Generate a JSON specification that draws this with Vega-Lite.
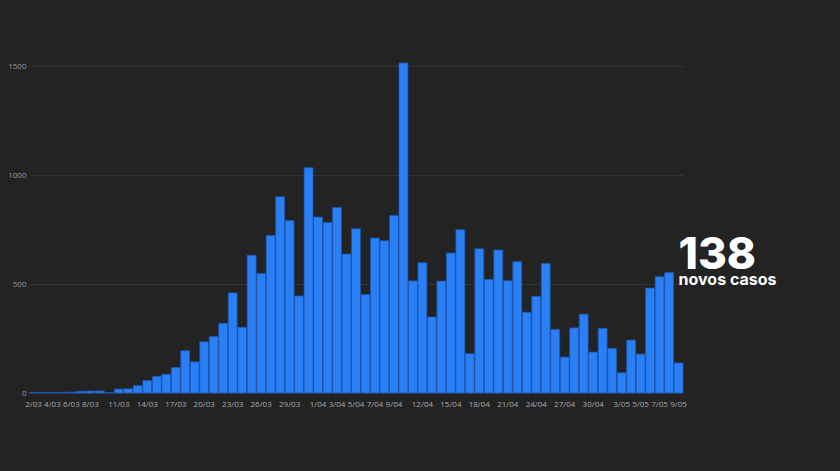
{
  "$schema": "https://vega.github.io/schema/vega-lite/v6.json",
  "width": 654,
  "height": 330,
  "autosize": "none",
  "padding": {"left": 29, "top": 63, "right": 157, "bottom": 78},
  "background": "#232323",
  "config": {
    "view": {"stroke": null},
    "font": "Open Sans"
  },
  "data": {
    "values": [
      {"date": "2/03", "casos": 2}, {"date": "3/03", "casos": 2}, {"date": "4/03", "casos": 2}, {"date": "5/03", "casos": 3},
      {"date": "6/03", "casos": 4}, {"date": "7/03", "casos": 8}, {"date": "8/03", "casos": 9}, {"date": "9/03", "casos": 9},
      {"date": "10/03", "casos": 2}, {"date": "11/03", "casos": 18}, {"date": "12/03", "casos": 19}, {"date": "13/03", "casos": 34},
      {"date": "14/03", "casos": 57}, {"date": "15/03", "casos": 76}, {"date": "16/03", "casos": 86}, {"date": "17/03", "casos": 117},
      {"date": "18/03", "casos": 194}, {"date": "19/03", "casos": 143}, {"date": "20/03", "casos": 235}, {"date": "21/03", "casos": 260},
      {"date": "22/03", "casos": 320}, {"date": "23/03", "casos": 460}, {"date": "24/03", "casos": 302}, {"date": "25/03", "casos": 633},
      {"date": "26/03", "casos": 549}, {"date": "27/03", "casos": 724}, {"date": "28/03", "casos": 902}, {"date": "29/03", "casos": 792},
      {"date": "30/03", "casos": 446}, {"date": "31/03", "casos": 1035}, {"date": "1/04", "casos": 808}, {"date": "2/04", "casos": 783},
      {"date": "3/04", "casos": 852}, {"date": "4/04", "casos": 638}, {"date": "5/04", "casos": 754}, {"date": "6/04", "casos": 452},
      {"date": "7/04", "casos": 712}, {"date": "8/04", "casos": 699}, {"date": "9/04", "casos": 815}, {"date": "10/04", "casos": 1516},
      {"date": "11/04", "casos": 515}, {"date": "12/04", "casos": 598}, {"date": "13/04", "casos": 349}, {"date": "14/04", "casos": 514},
      {"date": "15/04", "casos": 643}, {"date": "16/04", "casos": 750}, {"date": "17/04", "casos": 181}, {"date": "18/04", "casos": 663},
      {"date": "19/04", "casos": 521}, {"date": "20/04", "casos": 657}, {"date": "21/04", "casos": 516}, {"date": "22/04", "casos": 603},
      {"date": "23/04", "casos": 371}, {"date": "24/04", "casos": 444}, {"date": "25/04", "casos": 595}, {"date": "26/04", "casos": 292},
      {"date": "27/04", "casos": 165}, {"date": "28/04", "casos": 299}, {"date": "29/04", "casos": 362}, {"date": "30/04", "casos": 188},
      {"date": "1/05", "casos": 297}, {"date": "2/05", "casos": 205}, {"date": "3/05", "casos": 93}, {"date": "4/05", "casos": 243},
      {"date": "5/05", "casos": 179}, {"date": "6/05", "casos": 482}, {"date": "7/05", "casos": 534}, {"date": "8/05", "casos": 553},
      {"date": "9/05", "casos": 138}
    ]
  },
  "encoding": {
    "x": {
      "field": "date",
      "type": "ordinal",
      "sort": null,
      "scale": {"paddingInner": 0.06, "paddingOuter": 0},
      "axis": {
        "title": null,
        "values": ["2/03","4/03","6/03","8/03","11/03","14/03","17/03","20/03","23/03","26/03","29/03","1/04","3/04","5/04","7/04","9/04","12/04","15/04","18/04","21/04","24/04","27/04","30/04","3/05","5/05","7/05","9/05"],
        "labelAngle": 0,
        "labelFontSize": 8,
        "labelColor": "#a8a8b0",
        "labelPadding": 7,
        "labelOverlap": false,
        "ticks": false,
        "domain": false,
        "grid": false
      }
    }
  },
  "layer": [
    {
      "mark": {"type": "bar", "color": "#2a7ff5", "stroke": "#1c56b8", "strokeWidth": 0.8},
      "encoding": {
        "y": {
          "field": "casos",
          "type": "quantitative",
          "scale": {"domain": [0, 1516], "nice": false},
          "axis": {
            "title": null,
            "values": [0, 500, 1000, 1500],
            "format": "d",
            "labelFontSize": 8,
            "labelColor": "#9a9aa2",
            "labelPadding": 3,
            "ticks": false,
            "domain": false,
            "grid": true,
            "gridColor": "#333336",
            "gridWidth": 1
          }
        }
      }
    },
    {
      "data": {"values": [{"label": "138"}]},
      "mark": {"type": "text", "align": "left", "baseline": "alphabetic", "dx": 0, "fontSize": 44, "fontWeight": 800, "font": "Inter", "color": "#ffffff"},
      "encoding": {
        "text": {"field": "label"},
        "x": {"datum": "9/05"},
        "y": {"datum": 568}
      }
    },
    {
      "data": {"values": [{"label": "novos casos"}]},
      "mark": {"type": "text", "align": "left", "baseline": "alphabetic", "dx": 0, "fontSize": 16, "fontWeight": 700, "font": "Inter", "color": "#ffffff"},
      "encoding": {
        "text": {"field": "label"},
        "x": {"datum": "9/05"},
        "y": {"datum": 494}
      }
    }
  ]
}
